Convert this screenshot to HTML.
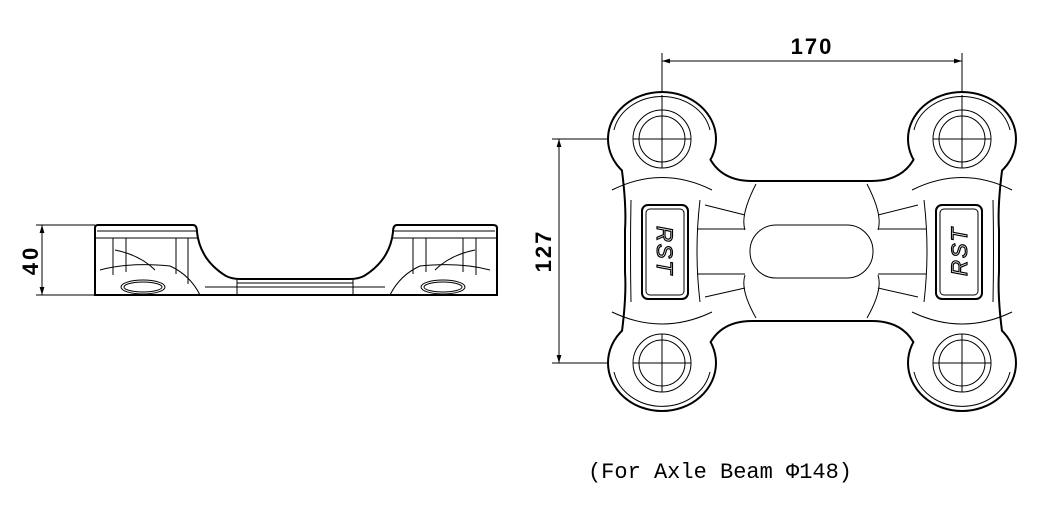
<!DOCTYPE html>
<html><head><style>
html,body{margin:0;padding:0;background:#fff;}
svg{display:block}
text{font-family:"Liberation Sans",sans-serif;}
</style></head><body>
<svg width="1059" height="507" viewBox="0 0 1059 507" xmlns="http://www.w3.org/2000/svg">
<defs>
<marker id="ar" viewBox="0 0 10 10" refX="10" refY="5" markerWidth="8" markerHeight="8" orient="auto-start-reverse" markerUnits="userSpaceOnUse"><path d="M0,2 L10,5 L0,8 z" fill="#000"/></marker>
</defs>
<g fill="none" stroke="#000" stroke-width="1">
<line x1="662" y1="53" x2="662" y2="100"/>
<line x1="962" y1="53" x2="962" y2="100"/>
<line x1="662" y1="61" x2="962" y2="61" marker-start="url(#ar)" marker-end="url(#ar)"/>
<line x1="552" y1="139" x2="628" y2="139"/>
<line x1="552" y1="363" x2="628" y2="363"/>
<line x1="559" y1="139" x2="559" y2="363" marker-start="url(#ar)" marker-end="url(#ar)"/>
<line x1="36" y1="225" x2="95" y2="225"/>
<line x1="36" y1="295" x2="95" y2="295"/>
<line x1="42" y1="225" x2="42" y2="295" marker-start="url(#ar)" marker-end="url(#ar)"/>
</g>
<text x="812" y="54" font-size="22" font-weight="bold" text-anchor="middle" letter-spacing="2">170</text>
<text transform="translate(551,251) rotate(-90)" font-size="22" font-weight="bold" text-anchor="middle" letter-spacing="2">127</text>
<text transform="translate(38,260) rotate(-90)" font-size="22" font-weight="bold" text-anchor="middle" letter-spacing="3">40</text>
<text x="720" y="478" font-size="22" text-anchor="middle" style="font-family:'Liberation Mono',monospace">(For Axle Beam Φ148)</text>

<g stroke="#000" stroke-width="4" fill="#000">
<ellipse cx="662" cy="139" rx="53" ry="46"/>
<ellipse cx="962" cy="139" rx="53" ry="46"/>
<ellipse cx="662" cy="363" rx="53" ry="47"/>
<ellipse cx="962" cy="363" rx="53" ry="47"/>
<path d="M620,150 Q628,200 626,230 V272 Q628,302 620,352 L705,352 L705,150 Z"/>
<path d="M1004,150 Q996,200 998,230 V272 Q996,302 1004,352 L919,352 L919,150 Z"/>
<path d="M705,150 Q716,182 752,182 H872 Q908,182 919,150 V352 Q908,320 872,320 H752 Q716,320 705,352 Z"/>
</g>
<g fill="#fff">
<ellipse cx="662" cy="139" rx="53" ry="46"/>
<ellipse cx="962" cy="139" rx="53" ry="46"/>
<ellipse cx="662" cy="363" rx="53" ry="47"/>
<ellipse cx="962" cy="363" rx="53" ry="47"/>
<path d="M620,150 Q628,200 626,230 V272 Q628,302 620,352 L705,352 L705,150 Z"/>
<path d="M1004,150 Q996,200 998,230 V272 Q996,302 1004,352 L919,352 L919,150 Z"/>
<path d="M705,150 Q716,182 752,182 H872 Q908,182 919,150 V352 Q908,320 872,320 H752 Q716,320 705,352 Z"/>
</g>
<g fill="none" stroke="#000" stroke-width="1">
<path d="M614,130 A49,42 0 0 1 710,130 M614,372 A49,43 0 0 0 710,372 M914,130 A49,42 0 0 1 1010,130 M914,372 A49,43 0 0 0 1010,372"/>
<path d="M612,190 Q662,165 712,190 M612,312 Q662,336 712,312 M912,190 Q962,165 1012,190 M912,312 Q962,336 1012,312"/>
<path d="M631,200 Q630,251 631,302 M993,200 Q994,251 993,302"/>
<circle cx="662" cy="139" r="29"/><circle cx="662" cy="139" r="23"/>
<circle cx="962" cy="139" r="29"/><circle cx="962" cy="139" r="23"/>
<circle cx="662" cy="363" r="29"/><circle cx="662" cy="363" r="23"/>
<circle cx="962" cy="363" r="29"/><circle cx="962" cy="363" r="23"/>
<path d="M662,95 V168 M633,139 H691 M962,95 V168 M933,139 H991 M662,334 V392 M633,363 H691 M962,334 V392 M933,363 H991"/>
<path d="M756,184 Q740,215 745,230 M867,184 Q883,215 878,230 M756,318 Q740,290 745,275 M867,318 Q883,290 878,275"/>
<line x1="697" y1="229" x2="745" y2="229"/><line x1="697" y1="274" x2="745" y2="274"/>
<line x1="878" y1="229" x2="926" y2="229"/><line x1="878" y1="274" x2="926" y2="274"/>
<path d="M705,205 L745,215 M705,297 L745,288 M918,205 L878,215 M918,297 L878,288"/>
<path d="M700,200 Q694,251 700,302 M924,200 Q930,251 924,302"/>
<rect x="750" y="225" width="123" height="53" rx="26"/>
<rect x="642" y="205" width="46" height="94" rx="6" stroke-width="2"/>
<rect x="646" y="209" width="38" height="86" rx="4"/>
<rect x="936" y="205" width="46" height="94" rx="6" stroke-width="2"/>
<rect x="940" y="209" width="38" height="86" rx="4"/>
</g>
<text transform="translate(657,251) rotate(90)" font-size="22" font-style="italic" text-anchor="middle" fill="#fff" stroke="#000" stroke-width="1.2" letter-spacing="2">RST</text>
<text transform="translate(967,251) rotate(-90)" font-size="22" font-style="italic" text-anchor="middle" fill="#fff" stroke="#000" stroke-width="1.2" letter-spacing="2">RST</text>

<path d="M95,228 Q95,225 98,225 H193 Q197,225 197,232 Q200,260 226,276 Q232,279 240,279 H350 Q358,279 364,276 Q390,260 393,232 Q393,225 397,225 H493 Q497,225 497,228 V295 H95 Z" fill="#fff" stroke="#000" stroke-width="2"/>
<g fill="none" stroke="#000" stroke-width="1">
<line x1="97" y1="231" x2="196" y2="231"/><line x1="394" y1="231" x2="495" y2="231"/>
<line x1="95" y1="238" x2="197" y2="238"/><line x1="393" y1="238" x2="497" y2="238"/>
<line x1="113" y1="238" x2="113" y2="275"/><line x1="126" y1="238" x2="126" y2="272"/>
<line x1="176" y1="238" x2="176" y2="274"/><line x1="188" y1="238" x2="188" y2="284"/>
<line x1="413" y1="238" x2="413" y2="274"/><line x1="426" y1="238" x2="426" y2="272"/>
<line x1="463" y1="238" x2="463" y2="272"/><line x1="476" y1="238" x2="476" y2="275"/>
<path d="M100,270 Q130,262 170,266 Q190,275 200,295"/>
<path d="M390,295 Q400,275 420,266 Q460,262 490,270"/>
<path d="M115,250 Q140,255 155,270 M475,250 Q450,255 435,270"/>
<line x1="237" y1="283" x2="353" y2="283"/>
<line x1="205" y1="287" x2="385" y2="287"/>
<line x1="237" y1="279" x2="237" y2="295"/><line x1="353" y1="279" x2="353" y2="295"/>
<ellipse cx="143" cy="287" rx="22" ry="7"/><ellipse cx="143" cy="287" rx="19" ry="5"/>
<ellipse cx="443" cy="287" rx="22" ry="7"/><ellipse cx="443" cy="287" rx="19" ry="5"/>
</g>
</svg>
</body></html>
